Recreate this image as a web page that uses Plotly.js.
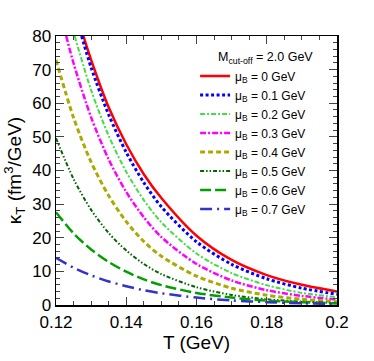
<!DOCTYPE html>
<html>
<head>
<meta charset="utf-8">
<script src="https://cdn.plot.ly/plotly-3.0.1.min.js"></script>
<style>html,body{margin:0;padding:0;background:#fff;}#chart{width:374px;height:361px;}</style>
</head>
<body>
<div id="chart"></div>
<script>
// Temperature grid (GeV)
const T_mu0  = [0.1278, 0.13, 0.135, 0.14, 0.145, 0.15, 0.16, 0.17, 0.18, 0.19, 0.20];
const K_mu0  = [80, 72.9, 58.8, 47.8, 38.9, 31.8, 20.6, 13.4, 8.9, 6.0, 4.0];

const T_mu01 = [0.1273, 0.13, 0.135, 0.14, 0.145, 0.15, 0.16, 0.17, 0.18, 0.19, 0.20];
const K_mu01 = [80, 70.6, 56.6, 45.4, 36.4, 29.2, 18.8, 12.1, 7.8, 5.0, 3.2];

const T_mu02 = [0.1253, 0.13, 0.135, 0.14, 0.145, 0.15, 0.16, 0.17, 0.18, 0.19, 0.20];
const K_mu02 = [80, 63.9, 50.3, 39.6, 31.2, 24.6, 15.3, 9.5, 5.9, 3.6, 2.3];

const T_mu03 = [0.1229, 0.125, 0.13, 0.135, 0.14, 0.145, 0.15, 0.16, 0.17, 0.18, 0.19, 0.20];
const K_mu03 = [80, 71.9, 55.8, 43.3, 33.6, 26.1, 20.2, 12.2, 7.3, 4.4, 2.7, 1.6];

const T_full = [0.12, 0.125, 0.13, 0.135, 0.14, 0.145, 0.15, 0.16, 0.17, 0.18, 0.19, 0.20];
const K_mu04 = [72.9, 55.7, 42.5, 32.5, 24.8, 18.9, 14.5, 8.6, 5.0, 2.9, 1.7, 1.0];
const K_mu05 = [49.6, 37.5, 28.3, 21.4, 16.2, 12.2, 9.2, 5.3, 3.0, 1.7, 1.0, 0.6];
const K_mu06 = [27.6, 21.3, 16.5, 12.8, 9.9, 7.6, 5.9, 3.6, 2.2, 1.3, 0.8, 0.45];
const K_mu07 = [14.0, 11.1, 8.8, 7.0, 5.6, 4.4, 3.5, 2.2, 1.35, 0.85, 0.5, 0.3];

const names = ['μ<sub>B</sub> = 0 GeV','μ<sub>B</sub> = 0.1 GeV','μ<sub>B</sub> = 0.2 GeV','μ<sub>B</sub> = 0.3 GeV',
               'μ<sub>B</sub> = 0.4 GeV','μ<sub>B</sub> = 0.5 GeV','μ<sub>B</sub> = 0.6 GeV','μ<sub>B</sub> = 0.7 GeV'];

const series = [
  {x:T_mu0,  y:K_mu0,  color:'#ff0000', width:2.5, dash:'solid'},
  {x:T_mu01, y:K_mu01, color:'#0000ff', width:3,   dash:'3px,2.5px'},
  {x:T_mu02, y:K_mu02, color:'#44dd44', width:2,   dash:'5px,2px,2px,2px'},
  {x:T_mu03, y:K_mu03, color:'#ff00ff', width:2.5, dash:'6px,2px,2px,2px'},
  {x:T_full, y:K_mu04, color:'#aaaa00', width:3,   dash:'5px,3px'},
  {x:T_full, y:K_mu05, color:'#006400', width:2,   dash:'4px,2px,1.5px,2px,1.5px,2px'},
  {x:T_full, y:K_mu06, color:'#00a000', width:2.5, dash:'11px,4px'},
  {x:T_full, y:K_mu07, color:'#3333cc', width:2.5, dash:'12px,5px,2px,5px'}
];

const traces = series.map((s,i)=>({
  x:s.x, y:s.y, type:'scatter', mode:'lines', name:names[i],
  line:{color:s.color, width:s.width, dash:s.dash, shape:'spline', smoothing:0.8}
}));

const font = 'Liberation Sans, Arial, Helvetica, sans-serif';
const layout = {
  width:374, height:361,
  margin:{l:56, r:37, t:36, b:56},
  paper_bgcolor:'#fff', plot_bgcolor:'#fff',
  font:{family:font, color:'#000'},
  showlegend:true,
  legend:{x:0.495, xanchor:'left', y:0.905, yanchor:'top', bgcolor:'rgba(0,0,0,0)',
          font:{family:font, size:12, color:'#000'}, tracegroupgap:0},
  xaxis:{range:[0.12,0.2], tick0:0.12, dtick:0.02, ticks:'inside', ticklen:8, tickwidth:1,
         showline:true, linecolor:'#000', linewidth:1.5, mirror:'ticks', showgrid:false, zeroline:false,
         tickfont:{size:17, family:font}, ticklabelstandoff:1,
         minor:{dtick:0.005, ticks:'inside', ticklen:4, tickwidth:1, showgrid:false},
         title:{text:'T (GeV)', font:{size:19, family:font}, standoff:5}},
  yaxis:{range:[0,80], tick0:0, dtick:10, ticks:'inside', ticklen:8, tickwidth:1,
         showline:true, linecolor:'#000', linewidth:1.5, mirror:'ticks', showgrid:false, zeroline:false,
         tickfont:{size:17, family:font},
         minor:{dtick:2, ticks:'inside', ticklen:4, tickwidth:1, showgrid:false},
         title:{text:'κ<sub>T</sub> (fm<sup>3</sup>/GeV)', font:{size:19, family:font}, standoff:5}},
  annotations:[{xref:'paper', yref:'paper', x:0.57, y:0.918, xanchor:'left', yanchor:'middle',
                text:'M<sub>cut-off</sub> = 2.0 GeV', showarrow:false, font:{size:12.5, family:font}}]
};

Plotly.newPlot('chart', traces, layout, {staticPlot:true, displayModeBar:false});
</script>
</body>
</html>
